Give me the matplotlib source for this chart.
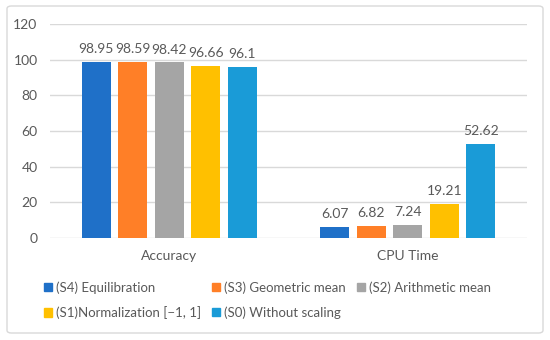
import numpy as np
import matplotlib.pyplot as plt
from matplotlib.patches import FancyBboxPatch, Patch

categories = ['Accuracy', 'CPU Time']
series = ['(S4) Equilibration', '(S3) Geometric mean', '(S2) Arithmetic mean',
          '(S1)Normalization [\u22121, 1]', '(S0) Without scaling']
values = [
    [98.95, 6.07],
    [98.59, 6.82],
    [98.42, 7.24],
    [96.66, 19.21],
    [96.1, 52.62],
]
labels = [
    ['98.95', '6.07'],
    ['98.59', '6.82'],
    ['98.42', '7.24'],
    ['96.66', '19.21'],
    ['96.1', '52.62'],
]
colors = ['#1F70C8', '#FF7F27', '#A5A5A5', '#FFC000', '#1A9BD7']

plt.rcParams['font.family'] = ['Lato', 'DejaVu Sans']
txt = '#595959'
grid = '#D9D9D9'
fs = 9.5

fig = plt.figure(figsize=(5.5, 3.4), dpi=100)
# light rounded frame round the whole chart
fig.patches.append(FancyBboxPatch((7 / 550, 7 / 340), 536 / 550, 327 / 340,
                                  boxstyle='round,pad=0,rounding_size=0.008',
                                  transform=fig.transFigure, fc='none',
                                  ec=grid, lw=1.0, zorder=-1))
ax = fig.add_axes([50 / 550, 1 - 238 / 340, 477 / 550, 214 / 340])
ax.set_facecolor('none')

x = np.arange(len(categories))
width = 0.122
pitch = 0.153
for i, (s, v) in enumerate(zip(series, values)):
    rects = ax.bar(x + (i - 2) * pitch, v, width, color=colors[i], label=s, zorder=3)
    for r, lab in zip(rects, labels[i]):
        ax.annotate(lab, xy=(r.get_x() + r.get_width() / 2, r.get_height()),
                    xytext=(0, 5), textcoords='offset points',
                    ha='center', va='bottom', fontsize=fs + 0.5, color=txt)

ax.set_xlim(-0.5, 1.5)
ax.set_ylim(0, 120)
ax.set_yticks(range(0, 121, 20))
ax.set_xticks(x)
ax.set_xticklabels(categories)
ax.grid(axis='y', color=grid, lw=1.0, zorder=0)
for sp in ax.spines.values():
    sp.set_visible(False)
ax.tick_params(axis='both', length=0, labelsize=fs + 0.5, labelcolor=txt)
ax.tick_params(axis='y', pad=9)
ax.tick_params(axis='x', pad=9)

# row-wise legend order for 3 columns
order = [0, 3, 1, 4, 2]
handles = [Patch(color=colors[i], label=series[i]) for i in order]
fig.legend(handles=handles, loc='center left', bbox_to_anchor=(44 / 550, 1 - 300 / 340),
           ncol=3, frameon=False, fontsize=fs, labelcolor=txt,
           handlelength=0.6, handleheight=0.6, handletextpad=0.3,
           columnspacing=0.85, labelspacing=0.95, borderaxespad=0, borderpad=0)

fig.savefig('out.png', dpi=100)
